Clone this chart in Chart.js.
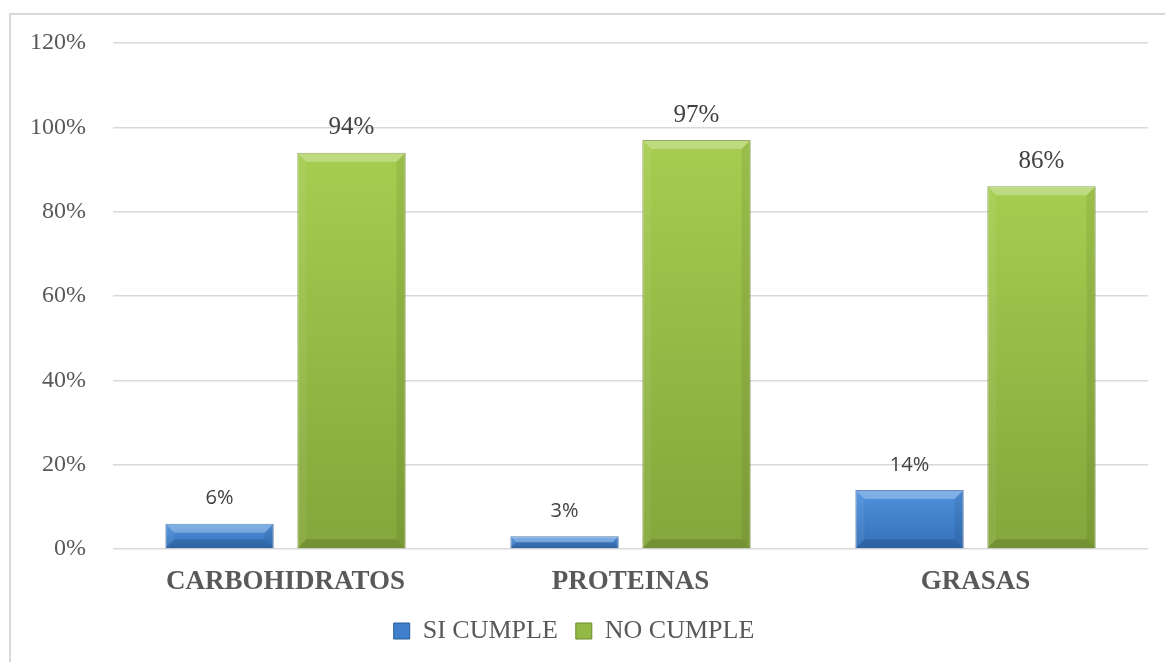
<!DOCTYPE html>
<html>
<head>
<meta charset="utf-8">
<script src="https://cdn.jsdelivr.net/npm/chart.js@4.4.1/dist/chart.umd.min.js"></script>
<style>
    html, body { margin: 0; padding: 0; background: #fff; }
    #wrap { width: 1165px; height: 662px; position: relative; }
</style>
</head>
<body>
<div id="wrap"><canvas id="chart" width="1165" height="662"></canvas></div>
<script>
// datos
const categories = ['CARBOHIDRATOS', 'PROTEINAS', 'GRASAS'];
const siCumple = [6, 3, 14];
const noCumple = [94, 97, 86];
const yMax = 120;
const yStep = 20;

const blueTop = '#4f92de', blueBottom = '#3470b8';
const greenTop = '#a6cd50', greenBottom = '#84a63b';

// degradado vertical por barra
function barGradient(ctx, top, bottom) {
    const chart = ctx.chart;
    const ys = chart.scales.y;
    if (!ys) return top;
    const v = ctx.parsed ? ctx.parsed.y : ctx.raw;
    const y0 = ys.getPixelForValue(v);
    const y1 = ys.getPixelForValue(0);
    if (!isFinite(y0) || !isFinite(y1) || y0 === y1) return top;
    const g = chart.ctx.createLinearGradient(0, y0, 0, y1);
    g.addColorStop(0, top);
    g.addColorStop(1, bottom);
    return g;
}

// marco gris del grafico
const framePlugin = {
    id: 'frame',
    beforeDraw(chart) {
        const c = chart.ctx;
        c.save();
        c.strokeStyle = '#d9d9d9';
        c.lineWidth = 2;
        c.beginPath();
        c.moveTo(10, 662);
        c.lineTo(10, 14);
        c.lineTo(1165, 14);
        c.stroke();
        c.restore();
    }
};

// efecto bisel + etiquetas de valor
const bevelPlugin = {
    id: 'bevel',
    afterDatasetsDraw(chart) {
        const c = chart.ctx;
        chart.data.datasets.forEach((ds, i) => {
            const meta = chart.getDatasetMeta(i);
            meta.data.forEach((bar, j) => {
                const p = bar.getProps(['x', 'y', 'base', 'width'], true);
                const l = p.x - p.width / 2, r = p.x + p.width / 2;
                const t = Math.min(p.y, p.base), b = Math.max(p.y, p.base);
                const bv = Math.min(9, (b - t) / 2);
                c.save();
                const poly = (pts, col) => {
                    c.beginPath();
                    c.moveTo(pts[0][0], pts[0][1]);
                    pts.slice(1).forEach(q => c.lineTo(q[0], q[1]));
                    c.closePath();
                    c.fillStyle = col;
                    c.fill();
                };
                poly([[l, t], [r, t], [r - bv, t + bv], [l + bv, t + bv]], 'rgba(255,255,255,0.28)');
                poly([[l, t], [l + bv, t + bv], [l + bv, b - bv], [l, b]], 'rgba(255,255,255,0.06)');
                poly([[r, t], [r - bv, t + bv], [r - bv, b - bv], [r, b]], 'rgba(0,0,0,0.07)');
                poly([[l, b], [l + bv, b - bv], [r - bv, b - bv], [r, b]], 'rgba(0,0,0,0.12)');

                // etiqueta
                c.fillStyle = '#404040';
                c.textAlign = 'center';
                c.textBaseline = 'middle';
                c.font = ds.labelFont;
                c.fillText(ds.data[j] + '%', p.x, t - 25);
                c.restore();
            });
        });
    }
};

const ctx = document.getElementById('chart').getContext('2d');
const myChart = new Chart(ctx, {
    type: 'bar',
    data: {
        labels: categories,
        datasets: [
            {
                label: 'SI CUMPLE',
                data: siCumple,
                backgroundColor: (c) => barGradient(c, blueTop, blueBottom),
                borderColor: '#2a5d99',
                borderWidth: 1,
                labelFont: '20px "Open Sans"',
                categoryPercentage: 0.765,
                barPercentage: 0.82
            },
            {
                label: 'NO CUMPLE',
                data: noCumple,
                backgroundColor: (c) => barGradient(c, greenTop, greenBottom),
                borderColor: '#6b8a2b',
                borderWidth: 1,
                labelFont: '25px "Liberation Serif"',
                categoryPercentage: 0.765,
                barPercentage: 0.82
            }
        ]
    },
    options: {
        responsive: false,
        animation: false,
        layout: { padding: { top: 43, right: 17, bottom: 8, left: 0 } },
        plugins: {
            legend: {
                position: 'bottom',
                labels: {
                    font: { family: 'Liberation Serif', size: 26 },
                    color: '#595959',
                    boxWidth: 16,
                    boxHeight: 16,
                    padding: 18,
                    generateLabels: (chart) => chart.data.datasets.map((ds, i) => ({
                        text: ds.label,
                        fillStyle: i === 0 ? '#3f7fcb' : '#93b846',
                        strokeStyle: i === 0 ? '#2a5d99' : '#6b8a2b',
                        lineWidth: 1,
                        fontColor: '#595959',
                        datasetIndex: i
                    }))
                }
            },
            tooltip: { enabled: false }
        },
        scales: {
            x: {
                grid: { display: false },
                border: { display: false },
                ticks: {
                    color: '#595959',
                    font: { family: 'Liberation Serif', size: 27, weight: 'bold' },
                    padding: 9
                },
                afterFit: (s) => { s.height = 51; }
            },
            y: {
                min: 0,
                max: yMax,
                grid: { color: '#d9d9d9', lineWidth: 1.5, drawTicks: false },
                border: { display: false },
                ticks: {
                    stepSize: yStep,
                    color: '#595959',
                    font: { family: 'Liberation Serif', size: 24 },
                    padding: 27,
                    callback: (v) => v + '%'
                },
                afterFit: (s) => { s.width = 113; }
            }
        }
    },
    plugins: [framePlugin, bevelPlugin]
});
</script>
</body>
</html>
